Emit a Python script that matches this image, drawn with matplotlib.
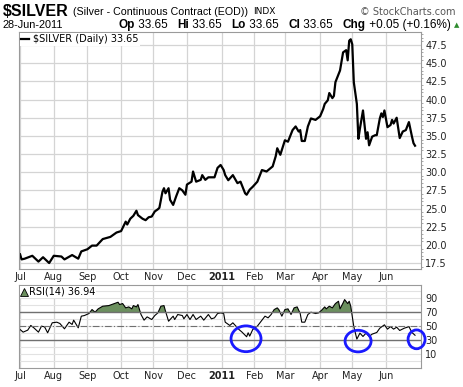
import numpy as np
import pandas as pd
import matplotlib
matplotlib.use("Agg")
import matplotlib.pyplot as plt
from matplotlib.lines import Line2D
from matplotlib.patches import Ellipse
from matplotlib.ticker import MultipleLocator

# trading sessions shown on the chart (x axis is session number, not calendar)
sessions = pd.bdate_range("2010-07-01", "2011-06-28")

# daily close of $SILVER (session number -> price)
price_day = [0, 1, 3, 8, 12, 15, 19, 22, 27, 29, 34, 38, 40, 44, 47, 50, 54, 59, 63, 66,
             69, 70, 72, 74, 76, 77, 80, 82, 84, 86, 88, 90, 91, 93, 94, 95, 97, 98, 100, 102,
             104, 106, 108, 109, 112, 113, 115, 118, 119, 121, 123, 127, 129, 131, 133, 134, 136, 139, 142, 144,
             147, 148, 150, 152, 155, 158, 161, 165, 167, 168, 170, 173, 175, 178, 180, 182, 183, 184, 186, 188,
             190, 193, 196, 198, 199, 201, 202, 204, 205, 206, 209, 211, 213, 214, 215, 216, 217, 218, 220, 221,
             222, 224, 226, 227, 228, 230, 232, 233, 235, 236, 237, 238, 240, 242, 243, 244, 246, 248, 250, 252,
             254, 256, 257, 258]
price_close = [18.7, 18.0, 18.1, 18.5, 17.7, 18.3, 17.5, 18.5, 18.4, 18.0, 18.6, 18.1, 19.1, 19.4, 19.9, 19.9, 20.8, 21.1, 21.7, 21.9,
               23.2, 22.8, 23.6, 24.0, 24.7, 24.1, 23.6, 23.4, 23.8, 23.9, 24.6, 24.9, 25.1, 27.3, 27.8, 27.1, 27.8, 26.2, 25.5, 26.7,
               27.8, 27.5, 26.9, 28.3, 28.7, 30.1, 28.7, 28.95, 29.6, 28.95, 29.3, 29.3, 30.6, 31.0, 30.3, 29.6, 28.9, 29.6, 28.5, 28.7,
               27.1, 26.9, 27.6, 28.0, 28.7, 30.3, 30.1, 30.8, 32.2, 33.3, 32.4, 34.4, 34.2, 35.8, 36.3, 35.6, 35.8, 34.3, 34.3, 36.3,
               37.4, 37.2, 37.7, 38.7, 39.4, 39.9, 40.9, 40.2, 40.5, 42.4, 44.0, 46.5, 46.8, 45.4, 48.1, 48.3, 47.6, 42.4, 39.4, 34.6,
               36.0, 38.5, 34.6, 35.5, 33.7, 34.9, 35.1, 35.1, 37.4, 38.1, 37.6, 38.5, 36.2, 36.5, 37.2, 36.7, 37.5, 34.7, 35.6, 35.8,
               36.9, 34.9, 34.0, 33.65]

# RSI(14)
rsi_day = [0, 2, 5, 7, 9, 12, 14, 16, 18, 21, 24, 26, 29, 32, 34, 35, 38, 40, 42, 45,
           47, 49, 51, 54, 58, 61, 64, 65, 67, 69, 71, 73, 74, 76, 77, 79, 81, 83, 86, 88,
           90, 92, 94, 95, 97, 100, 101, 103, 106, 107, 109, 111, 113, 115, 118, 120, 123, 125, 127, 129,
           131, 133, 134, 137, 139, 141, 143, 145, 148, 149, 150, 152, 155, 157, 160, 162, 164, 166, 168, 169,
           171, 173, 175, 177, 179, 181, 183, 184, 186, 188, 190, 193, 195, 197, 199, 200, 202, 204, 206, 208,
           209, 211, 212, 214, 215, 216, 218, 220, 222, 224, 226, 228, 230, 233, 235, 238, 240, 242, 244, 246,
           248, 251, 253, 254, 256, 258]
rsi_value = [45.2, 41.4, 44.3, 51.0, 47.6, 41.4, 50.0, 49.0, 40.5, 54.8, 55.7, 53.8, 46.2, 55.7, 52.4, 58.6, 47.6, 64.3, 65.2, 68.1,
             73.8, 70.0, 74.8, 78.6, 79.5, 81.9, 84.3, 81.0, 82.4, 76.2, 77.6, 74.8, 79.5, 77.6, 81.0, 66.7, 58.6, 63.3, 59.5, 65.2,
             69.0, 78.6, 79.5, 71.4, 57.1, 64.3, 59.5, 66.7, 65.2, 60.5, 66.7, 59.5, 66.7, 59.5, 64.3, 58.6, 66.7, 60.5, 61.9, 68.1,
             69.0, 68.1, 55.7, 51.0, 54.8, 50.0, 45.2, 41.4, 34.8, 40.5, 35.7, 45.2, 50.0, 55.7, 64.3, 61.9, 66.7, 73.8, 76.2, 73.8,
             64.3, 73.8, 74.8, 66.7, 76.2, 77.6, 68.1, 55.7, 55.7, 66.7, 70.0, 68.1, 69.0, 72.9, 77.6, 74.8, 78.6, 76.2, 82.4, 85.7,
             74.8, 83.3, 88.1, 82.4, 85.7, 78.6, 49.4, 31.4, 40.0, 35.2, 40.0, 35.2, 38.6, 40.9, 47.1, 51.9, 45.7, 49.4, 45.7, 48.5,
             43.8, 47.1, 48.5, 49.4, 40.9, 36.94]

month_labels = ["Jul", "Aug", "Sep", "Oct", "Nov", "Dec", "2011", "Feb", "Mar", "Apr", "May", "Jun"]
price_ticks = [17.5, 20.0, 22.5, 25.0, 27.5, 30.0, 32.5, 35.0, 37.5, 40.0, 42.5, 45.0, 47.5]
rsi_ticks = [10, 30, 50, 70, 90]

# annotation circles on the RSI pane: (session, rsi, width, height)
circles = [(147.6, 31.9, 19.6, 37), (220.8, 28.6, 17, 31), (259, 31.1, 11.1, 27)]

month_pos = [i for i in range(len(sessions)) if i == 0 or sessions[i].month != sessions[i - 1].month]

W, H = 464, 387
fig = plt.figure(figsize=(W / 100, H / 100), dpi=100)
plt.rcParams['font.family'] = ['DejaVu Sans']

GRID = "#d4d4d4"
SPINE = "#9a9a9a"
GREEN = "#6b8f5e"

ax = fig.add_axes([19 / W, 1 - 269 / H, 402 / W, 237 / H])
ax2 = fig.add_axes([19 / W, 1 - 368 / H, 402 / W, 83 / H])

# price pane
line, = ax.plot(price_day, price_close, color="black", lw=1.6, label="$SILVER (Daily) 33.65")
ax.set_xlim(-0.7, 261.9)
ax.set_ylim(16.68, 49.3)
ax.yaxis.tick_right()
ax.set_yticks(price_ticks)
ax.set_yticklabels([f"{t:.1f}" for t in price_ticks])
ax.yaxis.set_minor_locator(MultipleLocator(0.5))
ax.tick_params(axis="y", which="major", length=0, pad=3, labelsize=7, colors="#222222")
ax.tick_params(axis="y", which="minor", length=1.5, color=SPINE)
ax.set_xticks(month_pos)
ax.set_xticklabels(month_labels)
ax.tick_params(axis="x", length=0, pad=2, labelsize=7, colors="#222222")
ax.grid(True, color=GRID, lw=0.9)
ax.set_axisbelow(True)
for sp in ax.spines.values():
    sp.set_color(SPINE)
leg = ax.legend(handles=[line], loc="upper left", fontsize=7, handlelength=0.8,
                handletextpad=0.4, borderpad=0.15, borderaxespad=0.1, fancybox=False)
leg.get_frame().set_facecolor("white")
leg.get_frame().set_edgecolor("none")
leg.get_frame().set_alpha(1)

# RSI pane
rd = np.array(rsi_day)
rv = np.array(rsi_value)
ax2.fill_between(rd, rv, 70, where=rv >= 70, interpolate=True, color=GREEN, lw=0)
ax2.fill_between(rd, rv, 30, where=rv <= 30, interpolate=True, color=GREEN, lw=0)
ax2.plot(rd, rv, color="black", lw=0.8)
ax2.axhline(70, color="#707070", lw=1)
ax2.axhline(30, color="#707070", lw=1)
ax2.axhline(50, color="#707070", lw=0.8, ls=(0, (6, 2, 1, 2)))
ax2.set_xlim(-0.7, 261.9)
ax2.set_ylim(-10, 109)
ax2.yaxis.tick_right()
ax2.set_yticks(rsi_ticks)
ax2.set_yticks(np.arange(0, 101, 10), minor=True)
ax2.tick_params(axis="y", which="major", length=0, pad=3, labelsize=7, colors="#222222")
ax2.tick_params(axis="y", which="minor", length=0)
ax2.set_xticks(month_pos)
ax2.set_xticklabels(month_labels)
ax2.tick_params(axis="x", length=0, pad=2, labelsize=7, colors="#222222")
ax2.grid(True, which="both", axis="y", color="#e2e2e2", lw=0.8)
ax2.grid(True, which="major", axis="x", color=GRID, lw=0.9)
ax2.set_axisbelow(True)
for sp in ax2.spines.values():
    sp.set_color(SPINE)
for lab in ax.get_xticklabels() + ax2.get_xticklabels():
    if lab.get_text() == "2011":
        lab.set_fontweight("bold")

rsi_handle = Line2D([], [], marker="^", color=GREEN, markeredgecolor="black", markeredgewidth=0.6,
                    linestyle="None", markersize=6, label="RSI(14) 36.94")
leg2 = ax2.legend(handles=[rsi_handle], loc="upper left", fontsize=7, handlelength=0.6,
                  handletextpad=0.2, borderpad=0.1, borderaxespad=0.1, fancybox=False)
leg2.get_frame().set_facecolor("white")
leg2.get_frame().set_edgecolor("none")
leg2.get_frame().set_alpha(1)

for cx, cy, cw, ch in circles:
    ax2.add_patch(Ellipse((cx, cy), cw, ch, fill=False, edgecolor="#1a1aff", lw=2, clip_on=False, zorder=5))

# header
fig.text(3 / W, 1 - 12 / H, "$SILVER", fontsize=11.5, fontweight="bold", family="Liberation Sans", va="center")
title = fig.text(73 / W, 1 - 12 / H, "(Silver - Continuous Contract (EOD))", fontsize=7.7,
                 family="Liberation Sans", va="center")
renderer = fig.canvas.get_renderer()
indx_x = title.get_window_extent(renderer).x1 + 5
fig.text(indx_x / W, 1 - 12 / H, "INDX", fontsize=6.5, family="DejaVu Sans", va="center")
fig.text(456 / W, 1 - 12 / H, "\u00a9 StockCharts.com", fontsize=7, color="#555555", ha="right", va="center")
fig.text(3 / W, 1 - 25 / H, "28-Jun-2011", fontsize=7.8, family="Liberation Sans", va="center")

# quote line, laid out piece by piece then right-aligned to the image edge
hdr = [("Op", " 33.65   "), ("Hi", " 33.65   "), ("Lo", " 33.65   "),
       ("Cl", " 33.65   "), ("Chg", " +0.05 (+0.16%) ")]
pieces = []
for label, value in hdr:
    pieces.append((label, "bold"))
    pieces.append((value, "normal"))
texts = []
xpos = 0.0
for s, wgt in pieces:
    t = fig.text(xpos / W, 1 - 25 / H, s, fontsize=8.5, fontweight=wgt, family="Liberation Sans", va="center")
    xpos = t.get_window_extent(renderer).x1
    texts.append(t)
tri = fig.text(xpos / W, 1 - 25 / H, "\u25b2", fontsize=5, color="#2e8b2e", va="center")
texts.append(tri)
total = tri.get_window_extent(renderer).x1
shift = 459 - total
for t in texts:
    x0, y0 = t.get_position()
    t.set_position((x0 + shift / W, y0))

fig.savefig("out.png", dpi=100)
